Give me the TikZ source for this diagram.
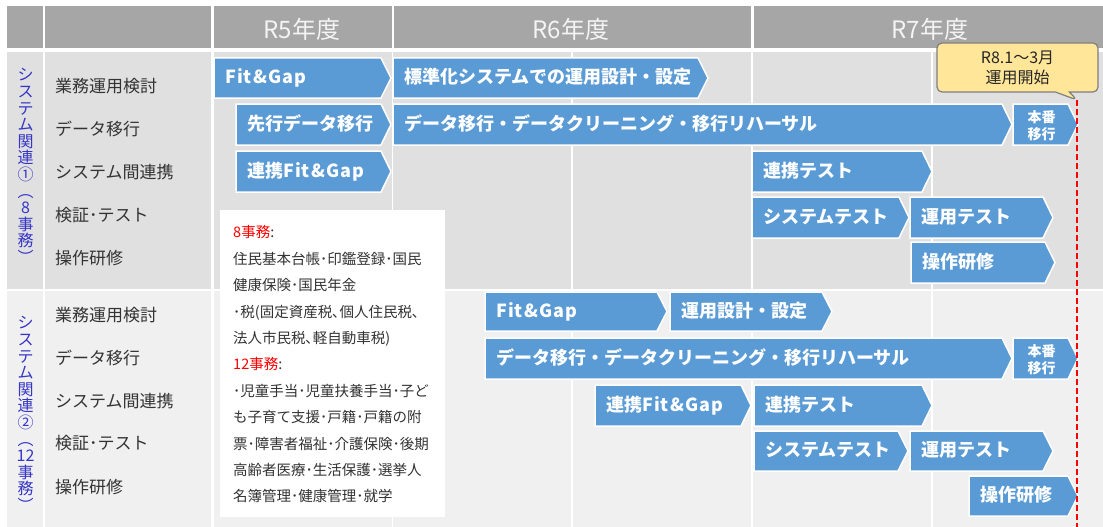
\documentclass[tikz,border=0pt]{standalone}
\usepackage{fontspec}
\setmainfont{Noto Sans CJK JP}
\usetikzlibrary{shapes.callouts}
\definecolor{hdr}{HTML}{A6A6A6}
\definecolor{hdrtxt}{HTML}{F4F4F4}
\definecolor{bodyA}{HTML}{E0E0E0}
\definecolor{bodyB}{HTML}{F0F0F0}
\definecolor{barblue}{HTML}{5B9BD5}
\definecolor{labcol}{HTML}{333333}
\definecolor{vblue}{HTML}{3535C8}
\definecolor{callfill}{HTML}{FFE699}
\definecolor{callline}{HTML}{7F7F7F}
\definecolor{redmark}{HTML}{FF0000}
\tikzset{
  hdrtext/.style={text=hdrtxt, font=\fontsize{24}{28}\selectfont, inner sep=0pt, text height=1.1em, text depth=0em},
  lab/.style={text=labcol, font=\fontsize{17}{20}\selectfont, anchor=west, inner sep=0pt, text height=1.1em, text depth=0em},
  vtext/.style={text=vblue, font=\fontsize{16}{16.6}\selectfont, align=center, inner sep=0pt},
  barshape/.style={fill=barblue, draw=white, line width=1.5pt, line join=miter},
  bartext/.style={text=white, font=\bfseries\fontsize{18}{20}\selectfont, anchor=west, inner sep=0pt, text height=1.1em, text depth=0em},
  smalltext/.style={text=white, font=\bfseries\fontsize{14}{17}\selectfont, align=center, inner sep=0pt},
  gridline/.style={draw=white, line width=1.5pt},
  infotext/.style={text=labcol, font=\fontsize{14.5}{26.4}\selectfont, align=left, anchor=north west, inner sep=0pt},
  callbox/.style={rectangle callout, fill=callfill, draw=callline, line width=1.2pt, rounded corners=5pt,
    minimum width=161pt, minimum height=49pt, inner sep=0pt, align=center,
    font=\fontsize{16}{20}\selectfont, text=black!85, callout pointer width=14pt},
  reddash/.style={draw=redmark, line width=1.8pt, dash pattern=on 6pt off 3pt}
}
\newcommand\gbar[6]{%
  \filldraw[barshape] (#2,#4) -- ({#3-10},#4) -- (#3,{(#4+#5)/2}) -- ({#3-10},#5) -- (#2,#5) -- cycle;
  \node[bartext] (#1) at ({#2+11},{(#4+#5)/2}) {#6};}
\newcommand\gbarc[6]{%
  \filldraw[barshape] (#2,#4) -- ({#3-10},#4) -- (#3,{(#4+#5)/2}) -- ({#3-10},#5) -- (#2,#5) -- cycle;
  \node[smalltext] (#1) at ({(#2+#3-8)/2},{(#4+#5)/2+1.5}) {#6};}
\begin{document}
\begin{tikzpicture}[x=1pt,y=-1pt]
\useasboundingbox (0,0) rectangle (1103,527);
\fill[white] (0,0) rectangle (1103,527);
% header
\fill[hdr] (7,6) rectangle (42.5,48);
\fill[hdr] (45,6) rectangle (211,48);
\fill[hdr] (213.5,6) rectangle (391.5,48);
\fill[hdr] (393.5,6) rectangle (751,48);
\fill[hdr] (753.5,6) rectangle (1103,48);
\node[hdrtext] (h5) at (302,33) {R5年度};
\node[hdrtext] (h6) at (571,33) {R6年度};
\node[hdrtext] (h7) at (930,33) {R7年度};
% section 1 body
\fill[bodyA] (7,52) rectangle (42.5,288.5);
\fill[bodyA] (45,52) rectangle (211,288.5);
\fill[bodyA] (213.5,52) rectangle (1103,288.5);
% section 2 body
\fill[bodyB] (7,291) rectangle (42.5,527);
\fill[bodyB] (45,291) rectangle (211,527);
\fill[bodyB] (213.5,291) rectangle (1103,527);
% grid lines
\foreach \gx in {392.5,572,752,932}{
  \draw[gridline] (\gx,52) -- (\gx,288.5);
  \draw[gridline] (\gx,291) -- (\gx,527);
}
% vertical group titles
\node[vtext] (v1) at (25.5,166) {シ\\ス\\テ\\ム\\関\\連\\①\\︵\\8\\事\\務\\︶};
\node[vtext] (v2) at (25.5,414) {シ\\ス\\テ\\ム\\関\\連\\②\\︵\\12\\事\\務\\︶};
% row labels
\node[lab] (l11) at (55,87) {業務運用検討};
\node[lab] (l12) at (55,130) {データ移行};
\node[lab] (l13) at (55,173) {システム間連携};
\node[lab] (l14) at (55,216) {検証･テスト};
\node[lab] (l15) at (55,259) {操作研修};
\node[lab] (l21) at (55,316) {業務運用検討};
\node[lab] (l22) at (55,359) {データ移行};
\node[lab] (l23) at (55,402) {システム間連携};
\node[lab] (l24) at (55,444) {検証･テスト};
\node[lab] (l25) at (55,488) {操作研修};
% section 1 bars
\gbar{a11}{214}{391}{58}{98}{{\addfontfeatures{LetterSpace=6}Fit\&Gap}}
\gbar{a12}{393}{708}{58}{98}{標準化システムでの運用設計・設定}
\gbar{a21}{236}{391}{104}{145}{先行データ移行}
\gbar{a22}{393}{1012}{104}{145}{データ移行・データクリーニング・移行リハーサル}
\gbarc{a23}{1013}{1078}{104}{145}{本番\\移行}
\gbar{a31}{236}{391}{151}{192}{連携{\addfontfeatures{LetterSpace=6}Fit\&Gap}}
\gbar{a32}{752}{932}{151}{192}{連携テスト}
\gbar{a41}{752}{909}{197}{238}{システムテスト}
\gbar{a42}{910}{1053}{197}{238}{運用テスト}
\gbar{a51}{911}{1055}{242}{283}{操作研修}
% section 2 bars
\gbar{b11}{485}{667}{292}{331}{{\addfontfeatures{LetterSpace=6}Fit\&Gap}}
\gbar{b12}{670}{832}{292}{331}{運用設計・設定}
\gbar{b21}{485}{1012}{338}{379}{データ移行・データクリーニング・移行リハーサル}
\gbarc{b22}{1013}{1078}{338}{379}{本番\\移行}
\gbar{b31}{595}{751}{385}{426}{連携{\addfontfeatures{LetterSpace=6}Fit\&Gap}}
\gbar{b32}{754}{932}{385}{426}{連携テスト}
\gbar{b41}{754}{908}{431}{471}{システムテスト}
\gbar{b42}{910}{1053}{431}{471}{運用テスト}
\gbar{b51}{969}{1078}{476}{516}{操作研修}
% info box
\node[fill=white, minimum width=225pt, minimum height=307pt, anchor=north west, inner sep=0pt] (infobox) at (220,210) {};
\node[infotext] (info) at (233,225.5) {{\color{redmark}8事務}:\\住民基本台帳･印鑑登録･国民\\健康保険･国民年金\\･税(固定資産税､個人住民税､\\法人市民税､軽自動車税)\\{\color{redmark}12事務}:\\･児童手当･児童扶養手当･子ど\\も子育て支援･戸籍･戸籍の附\\票･障害者福祉･介護保険･後期\\高齢者医療･生活保護･選挙人\\名簿管理･健康管理･就学};
% callout and start line
\coordinate (ctip) at (1077,100);
\coordinate (lend) at (1077,527);
\node[callbox, callout absolute pointer={(ctip)}] (call) at (1017.5,67.5) {R8.1～3月\\運用開始};
\draw[reddash] (ctip) -- (lend);
\end{tikzpicture}
\end{document}
